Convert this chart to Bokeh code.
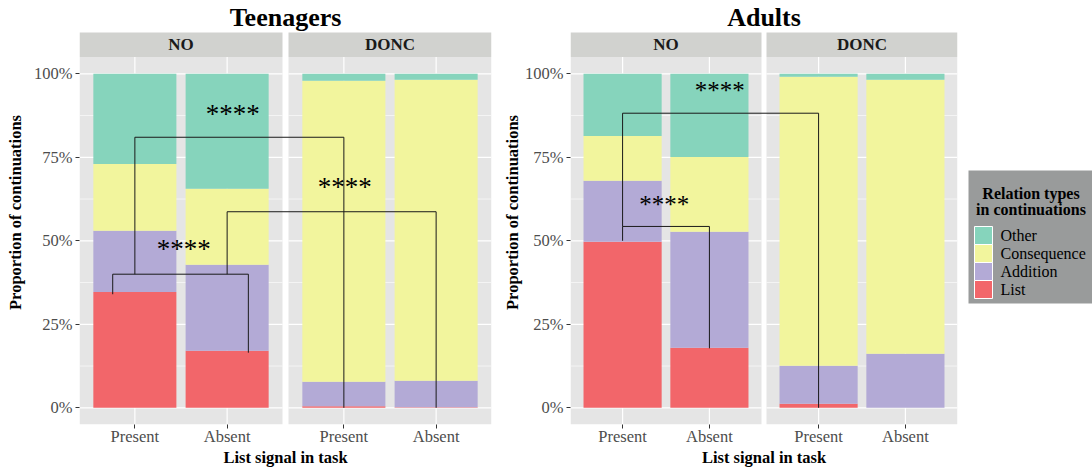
import numpy as np
from bokeh.plotting import figure
from bokeh.models import Range1d, FixedTicker, NumeralTickFormatter
from bokeh.layouts import row
from bokeh.embed import file_html
from bokeh.resources import INLINE
from bokeh.core.properties import value

# ---------------- data ----------------
groups = ["Teenagers", "Adults"]
facets = ["NO", "DONC"]
signals = ["Present", "Absent"]
relations = ["List", "Addition", "Consequence", "Other"]          # stacking order, bottom -> top
legend_order = ["Other", "Consequence", "Addition", "List"]
legend_title = ["Relation types", "in continuations"]
colors = {"List": "#F2666A", "Addition": "#B3AAD6",
          "Consequence": "#F2F59D", "Other": "#86D4BC"}

# bar order: NO-Present, NO-Absent, DONC-Present, DONC-Absent
teen_list = [0.347, 0.171, 0.005, 0.002]
teen_addition = [0.183, 0.257, 0.073, 0.079]
teen_consequence = [0.200, 0.228, 0.901, 0.901]
teen_other = [0.270, 0.344, 0.021, 0.018]

adult_list = [0.497, 0.180, 0.012, 0.000]
adult_addition = [0.183, 0.347, 0.114, 0.162]
adult_consequence = [0.134, 0.224, 0.865, 0.820]
adult_other = [0.186, 0.249, 0.009, 0.018]

# significance brackets: (facet_a, x_a, facet_b, x_b, y, leg_a_bottom, leg_b_bottom)
teen_brackets = [(0, 0.76, 0, 2.23, 0.400, 0.340, 0.165),
                 (0, 1.00, 1, 1.00, 0.810, 0.400, 0.000),
                 (0, 2.00, 1, 2.00, 0.587, 0.400, 0.000)]
teen_stars = [(0, 1.53, 0.476, "****"), (0, 2.06, 0.880, "****"), (1, 1.01, 0.660, "****")]

adult_brackets = [(0, 1.00, 0, 2.00, 0.543, 0.500, 0.178),
                  (0, 1.00, 1, 1.00, 0.882, 0.543, 0.000)]
adult_stars = [(0, 1.48, 0.610, "****"), (0, 2.12, 0.950, "****")]

major_y = [0, 0.25, 0.5, 0.75, 1.0]
minor_y = [0.125, 0.375, 0.625, 0.875]

SERIF = "Liberation Serif"
PANEL_BG = "#E5E5E5"
STRIP_BG = "#D1D2CF"
FIG_H = 468
FRAME_H = 424
PPU = 334.0   # pixels per unit (y)


def make_panel(title, series, brackets, stars, star_size, left_border, facet_px, gap_px,
               right_border, ylabel_standoff):
    frame_w = 2 * facet_px + gap_px
    ppx = facet_px / 2.2
    gap = gap_px / ppx
    offset = 2.2 + gap
    y0 = -0.05
    y1 = y0 + FRAME_H / PPU
    strip_bot, strip_top = 1.05, y1 - 32 / PPU
    title_y = y1 - 17 / PPU

    p = figure(frame_width=frame_w, frame_height=FRAME_H, title=None,
               x_range=Range1d(0.4, 0.4 + 4.4 + gap), y_range=Range1d(y0, y1),
               output_backend="svg", toolbar_location=None,
               min_border_left=left_border, min_border_right=right_border,
               min_border_top=0, min_border_bottom=FIG_H - FRAME_H,
               background_fill_color="white", border_fill_color="white")
    p.outline_line_color = None
    p.xgrid.visible = False
    p.ygrid.visible = False

    f_left = [0.4, 0.4 + offset]
    f_right = [2.6, 2.6 + offset]
    xs = [1, 2, 1 + offset, 2 + offset]

    # panel backgrounds + strips
    p.quad(left=f_left, right=f_right, bottom=[y0] * 2, top=[1.05] * 2,
           fill_color=PANEL_BG, line_color=None)
    p.quad(left=f_left, right=f_right, bottom=[strip_bot] * 2, top=[strip_top] * 2,
           fill_color=STRIP_BG, line_color=None)
    p.text(x=[(a + b) / 2 for a, b in zip(f_left, f_right)], y=[(strip_bot + strip_top) / 2] * 2,
           text=facets, text_font=value(SERIF), text_font_style="bold",
           text_font_size="17px", text_color="#1A1A1A",
           text_align="center", text_baseline="middle")

    # grid lines
    gx0, gx1, gy0, gy1 = [], [], [], []
    for fl, fr in zip(f_left, f_right):
        for yv in minor_y:
            gx0.append(fl); gx1.append(fr); gy0.append(yv); gy1.append(yv)
    p.segment(x0=gx0, x1=gx1, y0=gy0, y1=gy1, line_color="white", line_width=0.6)
    gx0, gx1, gy0, gy1 = [], [], [], []
    for fl, fr in zip(f_left, f_right):
        for yv in major_y:
            gx0.append(fl); gx1.append(fr); gy0.append(yv); gy1.append(yv)
    for xv in xs:
        gx0.append(xv); gx1.append(xv); gy0.append(y0); gy1.append(1.05)
    p.segment(x0=gx0, x1=gx1, y0=gy0, y1=gy1, line_color="white", line_width=1.2)

    # stacked bars
    bottom = np.zeros(4)
    for rel in relations:
        vals = np.array(series[rel])
        p.vbar(x=xs, width=0.9, bottom=bottom, top=bottom + vals,
               fill_color=colors[rel], line_color=None)
        bottom = bottom + vals

    # brackets
    mx, my = [], []
    for fa, xa, fb, xb, yv, ba, bb in brackets:
        xa2 = xa + fa * offset
        xb2 = xb + fb * offset
        mx.append([xa2, xa2, xb2, xb2])
        my.append([ba, yv, yv, bb])
    p.multi_line(xs=mx, ys=my, line_color="#1A1A1A", line_width=1)
    p.text(x=[x + f * offset for f, x, y, t in stars], y=[y for f, x, y, t in stars],
           text=[t for f, x, y, t in stars], text_font=value(SERIF),
           text_font_size=star_size, text_color="black",
           text_align="center", text_baseline="middle")

    # title
    p.text(x=[(0.4 + 0.4 + 4.4 + gap) / 2], y=[title_y], text=[title],
           text_font=value(SERIF), text_font_style="bold", text_font_size="26px",
           text_color="black", text_align="center", text_baseline="middle")

    # axes
    for ax in (p.xaxis[0], p.yaxis[0]):
        ax.axis_line_color = None
        ax.major_tick_in = 0
        ax.major_tick_out = 4
        ax.minor_tick_out = 0
        ax.minor_tick_in = 0
        ax.major_tick_line_color = "#333333"
        ax.major_label_text_font = SERIF
        ax.major_label_text_font_size = "16.5px"
        ax.major_label_text_color = "#4D4D4D"
        ax.axis_label_text_font = SERIF
        ax.axis_label_text_font_style = "bold"
        ax.axis_label_text_font_size = "16.5px"
        ax.axis_label_text_color = "black"
    p.yaxis.ticker = FixedTicker(ticks=major_y)
    p.yaxis.formatter = NumeralTickFormatter(format="0%")
    p.yaxis.axis_label = "Proportion of continuations"
    p.yaxis.bounds = (-0.05, 1.074)
    p.yaxis.major_label_standoff = 3
    p.yaxis.axis_label_standoff = ylabel_standoff
    p.xaxis.ticker = FixedTicker(ticks=xs)
    p.xaxis.major_label_overrides = {xv: signals[i % 2] for i, xv in enumerate(xs)}
    p.xaxis.axis_label = "List signal in task"
    p.xaxis.major_label_standoff = -2
    p.xaxis.axis_label_standoff = -1
    return p


teen = make_panel(groups[0],
                  {"List": teen_list, "Addition": teen_addition,
                   "Consequence": teen_consequence, "Other": teen_other},
                  teen_brackets, teen_stars, "27px",
                  left_border=79, facet_px=203, gap_px=6, right_border=9, ylabel_standoff=6)
adult = make_panel(groups[1],
                   {"List": adult_list, "Addition": adult_addition,
                    "Consequence": adult_consequence, "Other": adult_other},
                   adult_brackets, adult_stars, "25px",
                   left_border=69, facet_px=191, gap_px=5, right_border=6, ylabel_standoff=0)

# ---------------- legend (separate small figure, pixel coordinates) ----------------
LW = 130
leg = figure(frame_width=LW, frame_height=FIG_H, title=None,
             x_range=Range1d(0, LW), y_range=Range1d(FIG_H, 0),
             x_axis_location=None, y_axis_location=None,
             output_backend="svg", toolbar_location=None,
             min_border=0, background_fill_color="white", border_fill_color="white")
leg.grid.visible = False
leg.outline_line_color = None
leg.quad(left=[5], right=[LW], top=[170], bottom=[303], fill_color="#999B9B", line_color=None)
leg.text(x=[67.5, 67.5], y=[192.5, 209], text=legend_title, text_font=value(SERIF),
         text_font_style="bold", text_font_size="16px", text_color="black",
         text_align="center", text_baseline="middle")
key_top = [226 + 18 * i for i in range(len(legend_order))]
leg.quad(left=[11] * 4, right=[29] * 4, top=key_top, bottom=[t + 18 for t in key_top],
         fill_color=[colors[r] for r in legend_order], line_color="white", line_width=1)
leg.text(x=[37] * 4, y=[t + 9 for t in key_top], text=legend_order, text_font=value(SERIF),
         text_font_size="16px", text_color="black", text_align="left", text_baseline="middle")

layout = row(teen, adult, leg, spacing=0)
open("out.html", "w").write(file_html(layout, INLINE))
